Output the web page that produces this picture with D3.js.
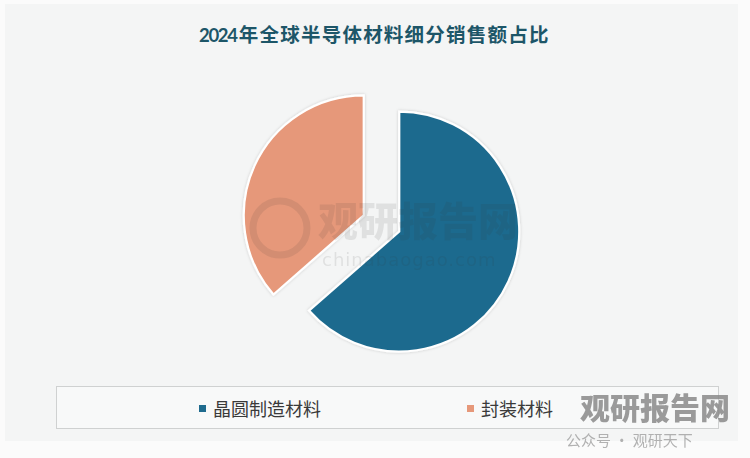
<!DOCTYPE html>
<html><head><meta charset="utf-8">
<script src="https://cdn.jsdelivr.net/npm/d3@7"></script>
<style>
html,body{margin:0;padding:0;background:#fbfbfb;}
svg{display:block;}
</style></head>
<body>
<svg id="chart" width="750" height="458"></svg>
<script>
const titleYear = "2024";
const titleRest = "年全球半导体材料细分销售额占比";
const categories = ["晶圆制造材料", "封装材料"];
const values = [429, 246]; // 亿美元, 2024
const colors = ["#1f6b8e", "#e6987a"];

const svg = d3.select("#chart");
const W = 750, H = 458;

// background panel
svg.append("rect").attr("x",0).attr("y",0).attr("width",W).attr("height",H).attr("fill","#fbfbfb");
svg.append("rect").attr("x",5).attr("y",4).attr("width",733).attr("height",437).attr("fill","#f4f5f5");

// title (single text element)
const title = svg.append("text").attr("x",199).attr("y",42).attr("fill","#1d5668").attr("font-weight","bold");
title.append("tspan")
  .attr("font-family","Lato, 'Noto Sans', sans-serif").attr("font-size",18.5)
  .attr("letter-spacing",-1.3)
  .text(titleYear);
const restSpan = title.append("tspan").attr("dx",2)
  .attr("font-family","'Noto Sans CJK SC', sans-serif").attr("font-size",19.5)
  .attr("letter-spacing",0)
  .text(titleRest);
// fit CJK part to the reference span (ends near x=548)
{
  const bb = restSpan.node().getComputedTextLength();
  const target = 548 - 237;
  const ls = Math.max(0, (target - bb) / titleRest.length);
  restSpan.attr("letter-spacing", ls);
}

// shadow filter
const defs = svg.append("defs");
const f = defs.append("filter").attr("id","sh").attr("x","-20%").attr("y","-20%").attr("width","140%").attr("height","140%");
f.append("feDropShadow").attr("dx",0).attr("dy",0).attr("stdDeviation",1.5).attr("flood-color","#000").attr("flood-opacity",0.18);

// pie
const cx = 381.5, cy = 223.5, R = 120, explode = 19.5;
const pie = d3.pie().sort(null).value(d => d)(values);
const arc = d3.arc().innerRadius(0).outerRadius(R);
const pg = svg.append("g").attr("transform",`translate(${cx},${cy})`);
pg.selectAll("path").data(pie).join("path")
  .attr("d", arc)
  .attr("transform", d => {
    const a = (d.startAngle + d.endAngle)/2;
    return `translate(${Math.sin(a)*explode},${-Math.cos(a)*explode})`;
  })
  .attr("fill", (d,i) => colors[i])
  .attr("stroke","#ffffff").attr("stroke-width",2.2)
  .attr("filter","url(#sh)");

// watermark (center)
const wm = svg.append("g").attr("opacity",0.10);
wm.append("text").attr("x",318).attr("y",236).attr("font-family","'Noto Sans CJK SC', sans-serif")
  .attr("font-weight","900").attr("font-size",40).attr("fill","#333").text("观研报告网");
wm.append("text").attr("x",322).attr("y",266).attr("font-family","'DejaVu Sans', sans-serif")
  .attr("font-size",18).attr("fill","#333").attr("letter-spacing",1).text("chinabaogao.com");
wm.append("circle").attr("cx",280).attr("cy",228).attr("r",27).attr("fill","none").attr("stroke","#333").attr("stroke-width",7);

// legend
const lg = svg.append("g");
lg.append("rect").attr("x",56.5).attr("y",386.5).attr("width",662).attr("height",42)
  .attr("fill","#f8f9f9").attr("stroke","#cfd1d1").attr("stroke-width",1);
const legX = [199, 467];
categories.forEach((c,i) => {
  lg.append("rect").attr("x",legX[i]).attr("y",405).attr("width",7).attr("height",7).attr("fill",colors[i]);
  lg.append("text").attr("x",legX[i]+14).attr("y",416)
    .attr("font-family","'Noto Sans CJK SC', sans-serif").attr("font-size",18).attr("fill","#3a3a3a")
    .text(c);
});

// watermark (bottom right)
const wm2 = svg.append("g");
wm2.append("text").attr("x",580).attr("y",419).attr("font-family","'Noto Sans CJK SC', sans-serif")
  .attr("font-weight","900").attr("font-size",30).attr("fill","#8a8a8a").attr("opacity",0.85).text("观研报告网");
wm2.append("text").attr("x",566).attr("y",446).attr("font-family","'Noto Sans CJK SC', sans-serif")
  .attr("font-size",15).attr("fill","#9a9a9a").attr("opacity",0.75).text("公众号 · 观研天下");
</script>
</body></html>
